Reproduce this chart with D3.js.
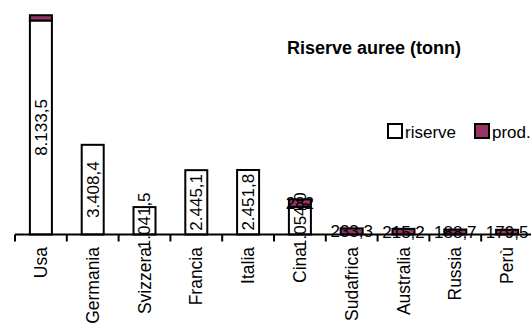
<!DOCTYPE html>
<html>
<head>
<meta charset="utf-8">
<script src="https://cdn.jsdelivr.net/npm/d3@7"></script>
<style>
  html, body { margin: 0; padding: 0; background: #fff; }
  svg { display: block; font-family: "Liberation Sans", Arial, sans-serif; }
</style>
</head>
<body>
<svg id="chart" width="531" height="325"></svg>
<script>
const categories = ["Usa", "Germania", "Svizzera", "Francia", "Italia", "Cina", "Sudafrica", "Australia", "Russia", "Perù"];
const riserve = [8133.5, 3408.4, 1041.5, 2445.1, 2451.8, 1054.0, 0, 0, 0, 0];
const prod = [200, 0, 0, 0, 0, 282, 233.3, 215.2, 188.7, 179.5];
const riserveLabels = ["8.133,5", "3.408,4", "1.041,5", "2.445,1", "2.451,8", "1.054,0", null, null, null, null];
const prodLabels = [null, null, null, null, null, "282", "233,3", "215,2", "188,7", "179,5"];
const seriesNames = ["riserve", "prod."];
const title = "Riserve auree (tonn)";

const svg = d3.select("#chart");
const colors = { riserve: "#ffffff", prod: "#993366" };

const axisY = 234.5;
const x = d3.scaleBand().domain(categories).range([15, 533]).padding(0);
const y = d3.scaleLinear().domain([0, 8133.5]).range([axisY, 20.5]);
const barW = 22;

const data = categories.map((c, i) => ({ c, r: riserve[i], p: prod[i], rl: riserveLabels[i], pl: prodLabels[i] }));
const cx = d => x(d.c) + x.bandwidth() / 2;

// riserve bars
svg.append("g").selectAll("rect").data(data.filter(d => d.r > 0)).join("rect")
  .attr("x", d => cx(d) - barW / 2)
  .attr("y", d => y(d.r))
  .attr("width", barW)
  .attr("height", d => y(0) - y(d.r))
  .attr("fill", colors.riserve)
  .attr("stroke", "#000")
  .attr("stroke-width", 2);

// prod bars stacked on top
svg.append("g").selectAll("rect").data(data.filter(d => d.p > 0)).join("rect")
  .attr("x", d => cx(d) - barW / 2)
  .attr("y", d => y(d.r + d.p))
  .attr("width", barW)
  .attr("height", d => y(d.r) - y(d.r + d.p))
  .attr("fill", colors.prod)
  .attr("stroke", "#000")
  .attr("stroke-width", 2);

// x axis
const axis = d3.axisBottom(x).tickSize(0).tickFormat("");
const gx = svg.append("g").attr("transform", `translate(0,${axisY})`).call(axis);
gx.select(".domain").attr("stroke", "#000").attr("stroke-width", 2).attr("d", "M15,0H531");
// category boundary ticks
gx.selectAll(".bnd").data(categories).join("line")
  .attr("class", "bnd")
  .attr("x1", d => x(d)).attr("x2", d => x(d))
  .attr("y1", 0).attr("y2", 7)
  .attr("stroke", "#000").attr("stroke-width", 2);

// category labels
svg.append("g").selectAll("text").data(categories).join("text")
  .attr("transform", d => `translate(${x(d) + x.bandwidth() / 2},247) rotate(-90)`)
  .attr("text-anchor", "end")
  .attr("dy", "0.35em")
  .attr("font-size", 17.5)
  .attr("fill", "#000")
  .text(d => d);

// riserve labels (rotated, centered in bar)
svg.append("g").selectAll("text").data(data.filter(d => d.rl)).join("text")
  .attr("transform", d => `translate(${cx(d)},${(y(0) + y(d.r)) / 2}) rotate(-90)`)
  .attr("text-anchor", "middle")
  .attr("dy", "0.35em")
  .attr("font-size", 17)
  .attr("fill", "#000")
  .text(d => d.rl);

// prod labels (horizontal, centered in segment)
svg.append("g").selectAll("text").data(data.filter(d => d.pl)).join("text")
  .attr("x", d => cx(d))
  .attr("y", d => (y(d.r) + y(d.r + d.p)) / 2)
  .attr("text-anchor", "middle")
  .attr("dy", "0.35em")
  .attr("font-size", 17)
  .attr("fill", "#000")
  .text(d => d.pl);

// title
svg.append("text")
  .attr("x", 287).attr("y", 54)
  .attr("font-size", 18)
  .attr("font-weight", "bold")
  .attr("fill", "#000")
  .text(title);

// legend
const legendX = [388, 475];
const legendFill = [colors.riserve, colors.prod];
const lg = svg.append("g").selectAll("g").data(seriesNames).join("g")
  .attr("transform", (d, i) => `translate(${legendX[i]},124)`);
lg.append("rect").attr("width", 14).attr("height", 14)
  .attr("fill", (d, i) => legendFill[i]).attr("stroke", "#000").attr("stroke-width", 2);
lg.append("text").attr("x", 17).attr("y", 14)
  .attr("font-size", 17).attr("fill", "#000")
  .text(d => d);
</script>
</body>
</html>
